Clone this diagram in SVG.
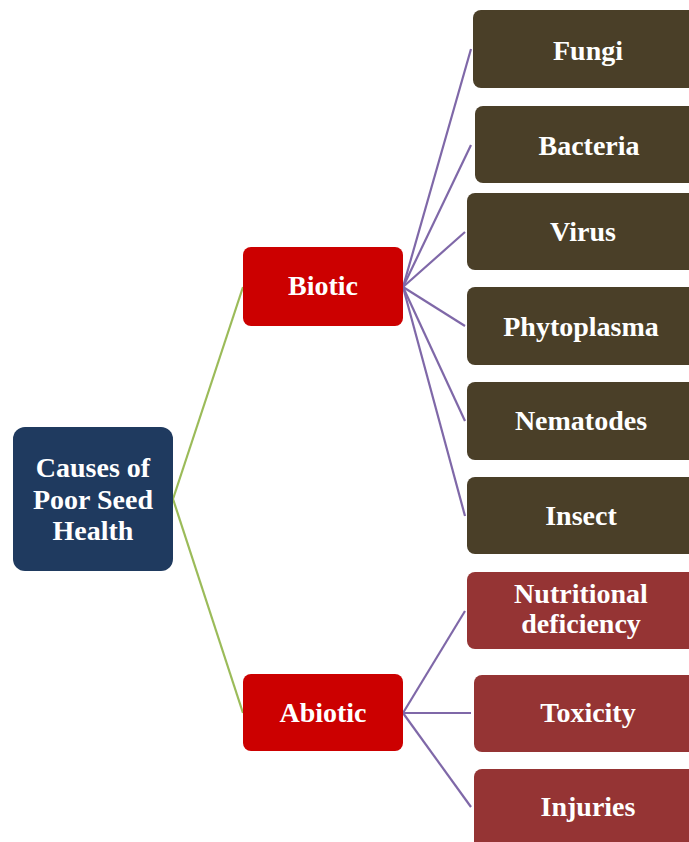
<svg xmlns="http://www.w3.org/2000/svg" width="689" height="842" viewBox="0 0 689 842">
<style>
.t{font-family:"Liberation Serif","Times New Roman",serif;font-weight:bold;font-size:28px;fill:#ffffff;text-anchor:middle}
.root{fill:#1f3a5f}
.mid{fill:#cc0000}
.bio{fill:#4a3f28}
.abio{fill:#953434}
.g{stroke:#9bbb59;stroke-width:2.2;fill:none}
.p{stroke:#7f68a8;stroke-width:2.2;fill:none}
</style>
<rect width="689" height="842" fill="#ffffff"/>
<g id="connectors">
<line class="g" x1="173" y1="499" x2="243" y2="287"/>
<line class="g" x1="173" y1="499" x2="243" y2="713"/>
<line class="p" x1="403" y1="287" x2="471" y2="49"/>
<line class="p" x1="403" y1="287" x2="471" y2="145"/>
<line class="p" x1="403" y1="287" x2="465" y2="232"/>
<line class="p" x1="403" y1="287" x2="465" y2="326"/>
<line class="p" x1="403" y1="287" x2="465" y2="421"/>
<line class="p" x1="403" y1="287" x2="465" y2="516"/>
<line class="p" x1="403" y1="713" x2="465" y2="611"/>
<line class="p" x1="403" y1="713" x2="471" y2="713"/>
<line class="p" x1="403" y1="713" x2="471" y2="807"/>
</g>
<g id="root">
<rect class="root" x="13" y="427" width="160" height="144" rx="12"/>
<text class="t" x="93" y="477">Causes of</text>
<text class="t" x="93" y="509">Poor Seed</text>
<text class="t" x="93" y="540">Health</text>
</g>
<g id="biotic">
<rect class="mid" x="243" y="247" width="160" height="79" rx="8"/>
<text class="t" x="323" y="295">Biotic</text>
</g>
<g id="abiotic">
<rect class="mid" x="243" y="674" width="160" height="77" rx="8"/>
<text class="t" x="323" y="722">Abiotic</text>
</g>
<g id="fungi">
<rect class="bio" x="473" y="10" width="230" height="78" rx="8"/>
<text class="t" x="588" y="60">Fungi</text>
</g>
<g id="bacteria">
<rect class="bio" x="475" y="106" width="230" height="77" rx="8"/>
<text class="t" x="589" y="155">Bacteria</text>
</g>
<g id="virus">
<rect class="bio" x="467" y="193" width="236" height="77" rx="8"/>
<text class="t" x="583" y="241">Virus</text>
</g>
<g id="phytoplasma">
<rect class="bio" x="467" y="287" width="236" height="78" rx="8"/>
<text class="t" x="581" y="336">Phytoplasma</text>
</g>
<g id="nematodes">
<rect class="bio" x="467" y="382" width="236" height="78" rx="8"/>
<text class="t" x="581" y="430">Nematodes</text>
</g>
<g id="insect">
<rect class="bio" x="467" y="477" width="236" height="77" rx="8"/>
<text class="t" x="581" y="525">Insect</text>
</g>
<g id="nutritional">
<rect class="abio" x="467" y="572" width="236" height="77" rx="8"/>
<text class="t" x="581" y="603">Nutritional</text>
<text class="t" x="581" y="633">deficiency</text>
</g>
<g id="toxicity">
<rect class="abio" x="474" y="675" width="230" height="77" rx="8"/>
<text class="t" x="588" y="722">Toxicity</text>
</g>
<g id="injuries">
<rect class="abio" x="474" y="769" width="230" height="80" rx="8"/>
<text class="t" x="588" y="816">Injuries</text>
</g>
</svg>
